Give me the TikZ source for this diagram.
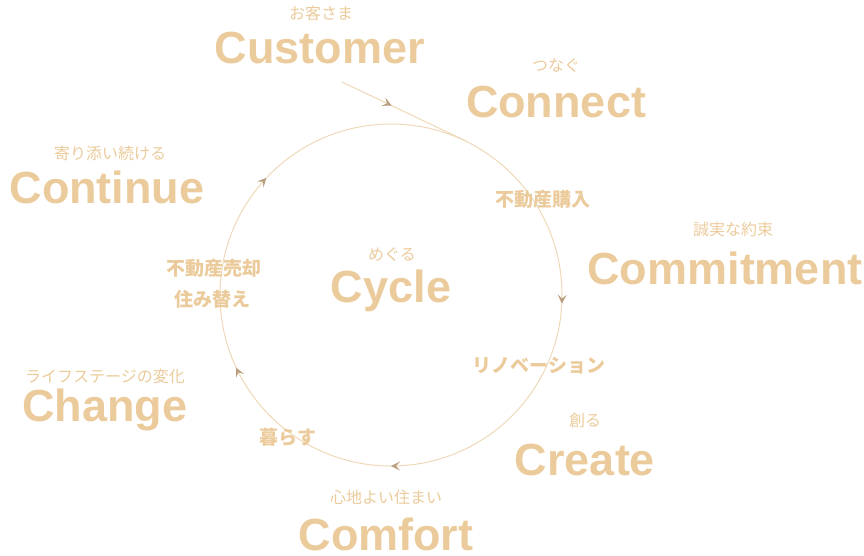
\documentclass[tikz,border=0pt]{standalone}
\usepackage{fontspec}
\setmainfont{Liberation Sans}
\newfontfamily\jp{Noto Sans CJK JP}
\usetikzlibrary{arrows.meta,decorations.markings,calc}
\definecolor{gold}{HTML}{EBCB9B}
\definecolor{ring}{HTML}{EED8B8}
\definecolor{tip}{HTML}{B89E7C}
\begin{document}
\begin{tikzpicture}[x=1pt,y=-1pt,
  big/.style={text=gold,font=\fontsize{45}{45}\selectfont\bfseries,inner sep=0pt},
  sub/.style={text=gold,font=\jp\fontsize{16}{16}\selectfont,inner sep=0pt},
  lab/.style={text=gold,font=\jp\fontsize{19}{19}\selectfont\bfseries,inner sep=0pt},
  tp/.style={-{Stealth[length=9pt,width=9pt,inset=4pt]},draw=tip}]
\useasboundingbox (0,0) rectangle (864,555);
\coordinate (c) at (391,295);
\draw[ring,line width=1pt,postaction={decorate},decoration={markings,
  mark=at position 0.008 with {\draw[tp] (-3pt,0)--(0,0);},
  mark=at position 0.25 with {\draw[tp] (-3pt,0)--(0,0);},
  mark=at position 0.43 with {\draw[tp] (-3pt,0)--(0,0);},
  mark=at position 0.62 with {\draw[tp] (-3pt,0)--(0,0);}}]
  (c) circle[radius=171];
\coordinate (ls) at (342,82);
\coordinate (le) at (466,141);
\draw[ring,line width=1pt] (ls)--(le);
\draw[tp] ($(ls)!0.385!(le)$) -- ($(ls)!0.4!(le)$);
\node[sub] (s1) at (321,13) {お客さま};
\node[big] (b1) at (320,48) {Customer};
\node[sub] (s2) at (556,66) {つなぐ};
\node[big] (b2) at (556,102) {Connect};
\node[sub] (s3) at (110,153) {寄り添い続ける};
\node[big] (b3) at (107,187) {Continue};
\node[sub] (s4) at (733,229) {誠実な約束};
\node[big] (b4) at (725,268) {Commitment};
\node[sub] (s5) at (392,255) {めぐる};
\node[big] (b5) at (391,291) {Cycle};
\node[sub] (s6) at (105,376) {ライフステージの変化};
\node[big] (b6) at (105,410) {Change};
\node[sub] (s7) at (585,420) {創る};
\node[big] (b7) at (585,460) {Create};
\node[sub] (s8) at (386,497) {心地よい住まい};
\node[big] (b8) at (386,534) {Comfort};
\node[lab] (l1) at (543,199) {不動産購入};
\node[lab] (l2) at (214,268) {不動産売却};
\node[lab] (l3) at (212,299) {住み替え};
\node[lab] (l4) at (539,366) {リノベーション};
\node[lab] (l5) at (288,437) {暮らす};
\end{tikzpicture}
\end{document}
